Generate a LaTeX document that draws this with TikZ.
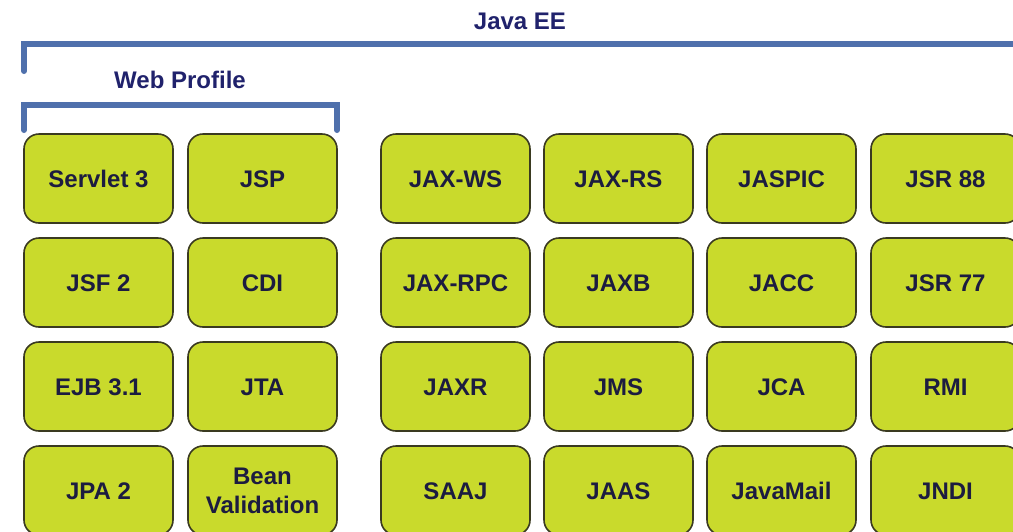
\documentclass[tikz,border=0pt]{standalone}
\usepackage{fontspec}
\setmainfont{Liberation Sans}
\definecolor{boxfill}{RGB}{201,218,44}
\definecolor{boxline}{RGB}{58,58,32}
\definecolor{txt}{RGB}{28,28,64}
\definecolor{titlecol}{RGB}{32,34,108}
\definecolor{brk}{RGB}{79,112,172}
\begin{document}
\begin{tikzpicture}[x=1pt,y=-1pt,
  tech/.style={draw=boxline, line width=1.6pt, fill=boxfill, rounded corners=15pt,
    minimum width=149pt, minimum height=89pt, inner sep=0pt, text=txt,
    text height=18pt, text depth=0pt,
    font=\fontsize{24}{29}\selectfont\bfseries, align=center},
  heading/.style={text=titlecol, inner sep=0pt, font=\fontsize{24}{28}\selectfont\bfseries},
  bracket/.style={draw=brk, line width=6pt, line cap=round}]
\useasboundingbox (0,0) rectangle (1013,531);
\clip (0,0) rectangle (1013,531);
\fill[white] (0,0) rectangle (1013,531);

% headings
\node[heading] (javaee) at (520,21) {Java EE};
\node[heading] (webprofile) at (180,80) {Web Profile};

% brackets
\coordinate (eeA) at (24,71);
\coordinate (eeB) at (24,44);
\coordinate (eeC) at (1017,44);
\coordinate (eeD) at (1017,71);
\draw[bracket] (eeA) -- (eeB) -- (eeC) -- (eeD);
\coordinate (wpA) at (24,130);
\coordinate (wpB) at (24,105);
\coordinate (wpC) at (337,105);
\coordinate (wpD) at (337,130);
\draw[bracket] (wpA) -- (wpB) -- (wpC) -- (wpD);

% row 1
\node[tech] (servlet) at (98.5,178.5) {Servlet 3};
\node[tech] (jsp) at (262.5,178.5) {JSP};
\node[tech] (jaxws) at (455.5,178.5) {JAX-WS};
\node[tech] (jaxrs) at (618.5,178.5) {JAX-RS};
\node[tech] (jaspic) at (781.5,178.5) {JASPIC};
\node[tech] (jsr88) at (945.5,178.5) {JSR 88};
% row 2
\node[tech] (jsf) at (98.5,282.5) {JSF 2};
\node[tech] (cdi) at (262.5,282.5) {CDI};
\node[tech] (jaxrpc) at (455.5,282.5) {JAX-RPC};
\node[tech] (jaxb) at (618.5,282.5) {JAXB};
\node[tech] (jacc) at (781.5,282.5) {JACC};
\node[tech] (jsr77) at (945.5,282.5) {JSR 77};
% row 3
\node[tech] (ejb) at (98.5,386.5) {EJB 3.1};
\node[tech] (jta) at (262.5,386.5) {JTA};
\node[tech] (jaxr) at (455.5,386.5) {JAXR};
\node[tech] (jms) at (618.5,386.5) {JMS};
\node[tech] (jca) at (781.5,386.5) {JCA};
\node[tech] (rmi) at (945.5,386.5) {RMI};
% row 4
\node[tech] (jpa) at (98.5,490.5) {JPA 2};
\node[tech, text height=, text depth=] (bean) at (262.5,490.5) {Bean\\Validation};
\node[tech] (saaj) at (455.5,490.5) {SAAJ};
\node[tech] (jaas) at (618.5,490.5) {JAAS};
\node[tech] (javamail) at (781.5,490.5) {JavaMail};
\node[tech] (jndi) at (945.5,490.5) {JNDI};
\end{tikzpicture}
\end{document}
